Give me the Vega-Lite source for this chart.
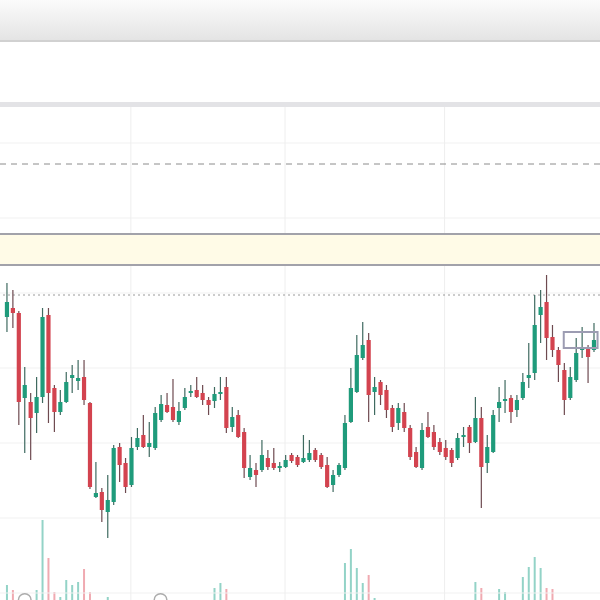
{
  "$schema": "https://vega.github.io/schema/vega-lite/v6.json",
  "width": 600,
  "height": 600,
  "padding": 0,
  "autosize": {"type": "none"},
  "background": "#ffffff",
  "config": {"view": {"stroke": null}},
  "datasets": {
    "candles": [
      {"i":0,"o":28.3,"h":31.7,"l":26.8,"c":29.8,"d":"up","v":150},
      {"i":1,"o":29.2,"h":31.0,"l":27.2,"c":28.7,"d":"down","v":100},
      {"i":2,"o":28.7,"h":28.9,"l":17.5,"c":19.8,"d":"down","v":0},
      {"i":3,"o":20.2,"h":23.3,"l":14.7,"c":21.5,"d":"up","v":0},
      {"i":4,"o":19.8,"h":20.7,"l":14.0,"c":18.2,"d":"down","v":0},
      {"i":5,"o":18.7,"h":22.3,"l":16.7,"c":20.3,"d":"up","v":100},
      {"i":6,"o":20.3,"h":29.2,"l":19.7,"c":28.3,"d":"up","v":800},
      {"i":7,"o":28.5,"h":29.2,"l":17.7,"c":20.7,"d":"down","v":420},
      {"i":8,"o":21.2,"h":21.5,"l":16.8,"c":18.8,"d":"down","v":80},
      {"i":9,"o":18.8,"h":21.0,"l":18.5,"c":19.8,"d":"up","v":30},
      {"i":10,"o":19.8,"h":22.8,"l":19.7,"c":21.8,"d":"up","v":200},
      {"i":11,"o":22.2,"h":23.5,"l":20.7,"c":22.5,"d":"up","v":150},
      {"i":12,"o":21.9,"h":24.0,"l":21.0,"c":22.2,"d":"up","v":180},
      {"i":13,"o":22.3,"h":24.0,"l":19.5,"c":20.0,"d":"down","v":310},
      {"i":14,"o":19.7,"h":19.8,"l":11.1,"c":11.3,"d":"down","v":80},
      {"i":15,"o":10.3,"h":13.8,"l":10.2,"c":10.7,"d":"up","v":0},
      {"i":16,"o":10.8,"h":11.2,"l":7.8,"c":9.0,"d":"down","v":0},
      {"i":17,"o":8.8,"h":12.5,"l":6.2,"c":10.0,"d":"up","v":30},
      {"i":18,"o":9.8,"h":15.5,"l":9.5,"c":15.2,"d":"up","v":0},
      {"i":19,"o":15.3,"h":15.7,"l":11.8,"c":13.5,"d":"down","v":0},
      {"i":20,"o":13.7,"h":14.2,"l":10.7,"c":11.3,"d":"down","v":0},
      {"i":21,"o":11.5,"h":16.3,"l":11.3,"c":15.2,"d":"up","v":0},
      {"i":22,"o":15.3,"h":17.2,"l":15.0,"c":16.2,"d":"up","v":0},
      {"i":23,"o":16.5,"h":18.5,"l":15.2,"c":15.3,"d":"down","v":0},
      {"i":24,"o":15.3,"h":17.8,"l":14.3,"c":15.7,"d":"up","v":0},
      {"i":25,"o":15.2,"h":19.3,"l":15.0,"c":18.7,"d":"up","v":0},
      {"i":26,"o":18.0,"h":20.5,"l":17.8,"c":19.6,"d":"up","v":0},
      {"i":27,"o":19.5,"h":20.7,"l":18.7,"c":18.8,"d":"down","v":0},
      {"i":28,"o":19.3,"h":22.1,"l":17.8,"c":18.0,"d":"down","v":0},
      {"i":29,"o":17.8,"h":19.8,"l":17.5,"c":18.9,"d":"up","v":0},
      {"i":30,"o":19.2,"h":21.2,"l":19.0,"c":20.3,"d":"up","v":0},
      {"i":31,"o":20.7,"h":21.5,"l":20.3,"c":20.9,"d":"up","v":0},
      {"i":32,"o":21.0,"h":22.3,"l":20.2,"c":20.3,"d":"down","v":0},
      {"i":33,"o":20.7,"h":21.5,"l":19.5,"c":20.0,"d":"down","v":0},
      {"i":34,"o":20.0,"h":20.3,"l":18.5,"c":19.5,"d":"down","v":0},
      {"i":35,"o":19.9,"h":21.3,"l":19.2,"c":20.6,"d":"up","v":120},
      {"i":36,"o":20.6,"h":22.3,"l":20.0,"c":20.8,"d":"up","v":170},
      {"i":37,"o":21.3,"h":22.3,"l":16.7,"c":17.2,"d":"down","v":110},
      {"i":38,"o":17.3,"h":19.3,"l":16.8,"c":18.3,"d":"up","v":0},
      {"i":39,"o":18.5,"h":19.0,"l":16.2,"c":16.3,"d":"down","v":0},
      {"i":40,"o":16.8,"h":17.2,"l":12.2,"c":13.2,"d":"down","v":0},
      {"i":41,"o":12.3,"h":14.5,"l":12.0,"c":13.2,"d":"up","v":0},
      {"i":42,"o":13.0,"h":13.7,"l":11.3,"c":12.5,"d":"down","v":0},
      {"i":43,"o":13.0,"h":16.0,"l":12.8,"c":14.5,"d":"up","v":0},
      {"i":44,"o":14.2,"h":15.0,"l":13.0,"c":13.3,"d":"down","v":0},
      {"i":45,"o":13.7,"h":15.2,"l":13.0,"c":13.2,"d":"down","v":0},
      {"i":46,"o":13.2,"h":13.8,"l":12.8,"c":13.4,"d":"up","v":0},
      {"i":47,"o":13.3,"h":14.5,"l":13.2,"c":14.0,"d":"up","v":0},
      {"i":48,"o":14.5,"h":14.7,"l":13.7,"c":13.9,"d":"down","v":0},
      {"i":49,"o":14.3,"h":14.5,"l":13.3,"c":13.5,"d":"down","v":0},
      {"i":50,"o":13.8,"h":16.5,"l":13.7,"c":14.2,"d":"up","v":0},
      {"i":51,"o":14.0,"h":16.0,"l":13.8,"c":14.7,"d":"up","v":0},
      {"i":52,"o":15.0,"h":15.2,"l":13.8,"c":14.0,"d":"down","v":0},
      {"i":53,"o":14.5,"h":14.7,"l":13.1,"c":13.3,"d":"down","v":0},
      {"i":54,"o":13.5,"h":14.3,"l":11.2,"c":11.3,"d":"down","v":0},
      {"i":55,"o":11.5,"h":13.0,"l":10.8,"c":12.5,"d":"up","v":0},
      {"i":56,"o":12.5,"h":13.7,"l":12.3,"c":13.5,"d":"up","v":0},
      {"i":57,"o":13.2,"h":18.5,"l":13.0,"c":17.7,"d":"up","v":370},
      {"i":58,"o":17.8,"h":23.2,"l":17.7,"c":21.2,"d":"up","v":510},
      {"i":59,"o":20.8,"h":26.5,"l":20.7,"c":24.5,"d":"up","v":320},
      {"i":60,"o":24.2,"h":27.8,"l":24.0,"c":25.5,"d":"up","v":170},
      {"i":61,"o":26.0,"h":26.7,"l":17.8,"c":20.5,"d":"down","v":250},
      {"i":62,"o":20.8,"h":22.3,"l":18.5,"c":21.3,"d":"up","v":20},
      {"i":63,"o":21.8,"h":22.0,"l":19.5,"c":20.5,"d":"down","v":0},
      {"i":64,"o":21.0,"h":21.5,"l":18.2,"c":19.0,"d":"down","v":0},
      {"i":65,"o":19.2,"h":19.5,"l":16.8,"c":17.3,"d":"down","v":0},
      {"i":66,"o":17.7,"h":19.7,"l":17.0,"c":19.2,"d":"up","v":0},
      {"i":67,"o":18.8,"h":19.7,"l":16.8,"c":17.2,"d":"down","v":0},
      {"i":68,"o":17.2,"h":17.5,"l":14.0,"c":14.3,"d":"down","v":0},
      {"i":69,"o":14.8,"h":15.3,"l":13.2,"c":13.3,"d":"down","v":0},
      {"i":70,"o":13.2,"h":17.7,"l":13.0,"c":17.0,"d":"up","v":0},
      {"i":71,"o":17.3,"h":18.8,"l":16.2,"c":16.3,"d":"down","v":0},
      {"i":72,"o":16.8,"h":17.5,"l":15.0,"c":15.3,"d":"down","v":0},
      {"i":73,"o":15.8,"h":16.2,"l":14.5,"c":14.8,"d":"down","v":0},
      {"i":74,"o":15.2,"h":16.0,"l":14.0,"c":14.3,"d":"down","v":0},
      {"i":75,"o":15.0,"h":15.2,"l":13.3,"c":13.7,"d":"down","v":0},
      {"i":76,"o":14.2,"h":16.7,"l":14.0,"c":16.2,"d":"up","v":0},
      {"i":77,"o":16.3,"h":17.3,"l":15.3,"c":16.5,"d":"up","v":0},
      {"i":78,"o":17.3,"h":17.5,"l":14.7,"c":15.7,"d":"down","v":0},
      {"i":79,"o":15.8,"h":20.3,"l":15.7,"c":18.2,"d":"up","v":180},
      {"i":80,"o":18.2,"h":19.3,"l":9.2,"c":13.3,"d":"down","v":120},
      {"i":81,"o":13.7,"h":16.5,"l":12.7,"c":15.3,"d":"up","v":0},
      {"i":82,"o":14.8,"h":19.0,"l":14.7,"c":18.5,"d":"up","v":0},
      {"i":83,"o":19.2,"h":21.3,"l":17.8,"c":19.8,"d":"up","v":110},
      {"i":84,"o":19.9,"h":22.0,"l":18.7,"c":20.1,"d":"up","v":80},
      {"i":85,"o":20.2,"h":20.5,"l":17.7,"c":18.8,"d":"down","v":0},
      {"i":86,"o":19.0,"h":20.5,"l":18.3,"c":20.0,"d":"up","v":0},
      {"i":87,"o":20.2,"h":22.7,"l":20.0,"c":21.8,"d":"up","v":230},
      {"i":88,"o":22.2,"h":25.7,"l":21.2,"c":22.5,"d":"up","v":330},
      {"i":89,"o":22.7,"h":30.5,"l":22.0,"c":27.5,"d":"up","v":430},
      {"i":90,"o":28.5,"h":31.0,"l":25.7,"c":29.3,"d":"up","v":320},
      {"i":91,"o":29.8,"h":32.5,"l":24.0,"c":26.2,"d":"down","v":120},
      {"i":92,"o":26.3,"h":27.5,"l":24.3,"c":25.0,"d":"down","v":110},
      {"i":93,"o":25.0,"h":25.3,"l":21.8,"c":23.5,"d":"down","v":0},
      {"i":94,"o":23.0,"h":23.7,"l":18.5,"c":20.0,"d":"down","v":0},
      {"i":95,"o":20.2,"h":23.3,"l":20.0,"c":22.3,"d":"up","v":0},
      {"i":96,"o":22.0,"h":26.2,"l":21.8,"c":24.7,"d":"up","v":0},
      {"i":97,"o":25.0,"h":27.3,"l":24.2,"c":25.2,"d":"up","v":0},
      {"i":98,"o":25.3,"h":25.5,"l":21.7,"c":24.3,"d":"down","v":0},
      {"i":99,"o":25.0,"h":27.7,"l":24.8,"c":26.0,"d":"up","v":0}
    ]
  },
  "layer": [
    {
      "data": {"name": "candles"},
      "transform": [{"filter": "datum.v > 0"}],
      "mark": {"type": "rule", "strokeWidth": 2},
      "encoding": {
        "x": {"field": "i", "type": "quantitative", "scale": {"domain": [-0.33, 99.17], "nice": false, "zero": false}, "axis": null},
        "y": {"field": "v", "type": "quantitative", "scale": {"domain": [0, 6000], "nice": false, "zero": true}, "axis": null},
        "y2": {"datum": 0},
        "stroke": {"field": "d", "type": "nominal", "scale": {"domain": ["up", "down"], "range": ["#93d3c7", "#f0aab1"]}, "legend": null}
      }
    },
    {
      "layer": [
        {
          "data": {"values": [{"a": 56, "b": 60}]},
          "mark": {"type": "rect", "fill": {"gradient": "linear", "x1": 0, "y1": 0, "x2": 0, "y2": 1, "stops": [{"offset": 0, "color": "#fbfbfb"}, {"offset": 1, "color": "#e4e4e4"}]}},
          "encoding": {
            "y": {"field": "a", "type": "quantitative", "scale": {"domain": [0, 60], "nice": false, "zero": false}, "axis": null},
            "y2": {"field": "b"}
          }
        },
        {
          "data": {"values": [{"y": 55.9}]},
          "mark": {"type": "rule", "stroke": "#c2c2c2", "strokeWidth": 1.5},
          "encoding": {"y": {"field": "y", "type": "quantitative"}}
        },
        {
          "data": {"values": [{"a": 49.3, "b": 49.8}]},
          "mark": {"type": "rect", "fill": "#e3e3e6"},
          "encoding": {"y": {"field": "a", "type": "quantitative"}, "y2": {"field": "b"}}
        },
        {
          "data": {"values": [{"y": 45.7}, {"y": 38.2}, {"y": 30.7}, {"y": 23.2}, {"y": 15.7}, {"y": 8.2}, {"y": 0.7}]},
          "mark": {"type": "rule", "stroke": "#f1f1f1", "strokeWidth": 1},
          "encoding": {"y": {"field": "y", "type": "quantitative"}}
        },
        {
          "data": {"values": [{"g": 20.9}, {"g": 46.9}, {"g": 73.8}]},
          "mark": {"type": "rule", "stroke": "#eeeeee", "strokeWidth": 1},
          "encoding": {"x": {"field": "g", "type": "quantitative", "scale": {"domain": [-0.33, 99.17], "nice": false, "zero": false}, "axis": null}, "y": {"datum": 49.3}, "y2": {"datum": 0}}
        },
        {
          "data": {"values": [{"y": 43.6}]},
          "mark": {"type": "rule", "stroke": "#8c8c8c", "strokeWidth": 1, "strokeDash": [6, 5]},
          "encoding": {"y": {"field": "y", "type": "quantitative"}}
        },
        {
          "data": {"values": [{"a": 33.5, "b": 36.6}]},
          "mark": {"type": "rect", "fill": "#fffbe7"},
          "encoding": {"y": {"field": "a", "type": "quantitative"}, "y2": {"field": "b"}}
        },
        {
          "data": {"values": [{"y": 36.6}, {"y": 33.5}]},
          "mark": {"type": "rule", "stroke": "#a2a2aa", "strokeWidth": 2},
          "encoding": {"y": {"field": "y", "type": "quantitative"}}
        },
        {
          "data": {"values": [{"y": 30.5}]},
          "mark": {"type": "rule", "stroke": "#9a9a9a", "strokeWidth": 1, "strokeDash": [2, 3]},
          "encoding": {"y": {"field": "y", "type": "quantitative"}}
        },
        {
          "data": {"name": "candles"},
          "mark": {"type": "rule", "strokeWidth": 1.2},
          "encoding": {
            "x": {"field": "i", "type": "quantitative"},
            "y": {"field": "l", "type": "quantitative"},
            "y2": {"field": "h"},
            "stroke": {"field": "d", "type": "nominal", "scale": {"domain": ["up", "down"], "range": ["#3f6a60", "#6e4a50"]}, "legend": null}
          }
        },
        {
          "data": {"name": "candles"},
          "mark": {"type": "bar", "size": 4.2, "strokeWidth": 0},
          "encoding": {
            "x": {"field": "i", "type": "quantitative"},
            "y": {"field": "o", "type": "quantitative"},
            "y2": {"field": "c"},
            "fill": {"field": "d", "type": "nominal", "scale": {"domain": ["up", "down"], "range": ["#1f9b7b", "#d3434f"]}, "legend": null}
          }
        },
        {
          "data": {"values": [{"x1": 93.9, "x2": 99.6, "y1": 25.2, "y2": 26.8}]},
          "mark": {"type": "rect", "fill": null, "filled": false, "stroke": "#9c9cb2", "strokeWidth": 2},
          "encoding": {
            "x": {"field": "x1", "type": "quantitative"},
            "x2": {"field": "x2"},
            "y": {"field": "y1", "type": "quantitative"},
            "y2": {"field": "y2"}
          }
        },
        {
          "data": {"values": [{"x": 3.0, "y": 0}, {"x": 25.9, "y": 0}]},
          "mark": {"type": "point", "shape": "circle", "size": 160, "filled": false, "stroke": "#8a8a8a", "strokeWidth": 1.5},
          "encoding": {
            "x": {"field": "x", "type": "quantitative"},
            "y": {"field": "y", "type": "quantitative"}
          }
        }
      ]
    }
  ],
  "resolve": {"scale": {"y": "independent", "stroke": "independent"}}
}
